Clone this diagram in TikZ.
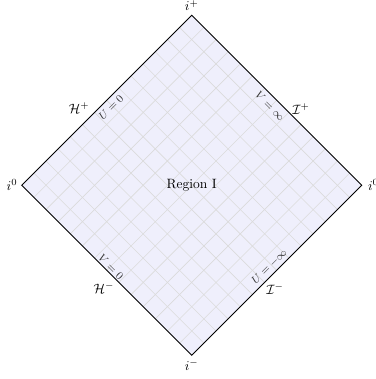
\documentclass[tikz,border=0pt]{standalone}
\usetikzlibrary{calc}
\definecolor{regionfill}{RGB}{239,239,252}
\begin{document}
\begin{tikzpicture}[x=0.741pt,y=-0.741pt,
  edge/.style={line width=0.65pt, black},
  gridline/.style={black!14, line width=0.45pt},
  corner/.style={inner sep=3pt},
  horizon/.style={font=\footnotesize, text=black!80, inner sep=0pt},
  bndlabel/.style={inner sep=0pt}]
\useasboundingbox (0,0) rectangle (375,379);
\coordinate (L) at (21.7,185.3);
\coordinate (T) at (191.7,15.3);
\coordinate (R) at (361.7,185.3);
\coordinate (B) at (191.7,355.3);
\fill[regionfill] (L) -- (T) -- (R) -- (B) -- cycle;
\foreach \k in {1,...,13}{
  \draw[gridline] ($(L)!\k/14!(B)$) -- ($(T)!\k/14!(R)$);
  \draw[gridline] ($(L)!\k/14!(T)$) -- ($(B)!\k/14!(R)$);
}
\draw[edge] (L) -- (T) -- (R) -- (B) -- cycle;
\node[corner, above] (ip) at (T) {$i^+$};
\node[corner, below] (im) at (B) {$i^-$};
\node[corner, left] (i0l) at (L) {$i^0$};
\node[corner, right, xshift=1.5pt] (i0r) at (R) {$i^0$};
\node (reg) at (191.7,185) {Region I};
\node[bndlabel] (Hp) at (79,108) {$\mathcal{H}^+$};
\node[bndlabel] (Hm) at (104,288) {$\mathcal{H}^-$};
\node[bndlabel] (Ip) at (301,109) {$\mathcal{I}^+$};
\node[bndlabel] (Im) at (275,289) {$\mathcal{I}^-$};
\node[horizon, rotate=45] (U0) at (111,107) {$U=0$};
\node[horizon, rotate=-45] (Vinf) at (270,106) {$V=\infty$};
\node[horizon, rotate=-45] (V0) at (111,267) {$V=0$};
\node[horizon, rotate=45] (Uminf) at (269.5,266.5) {$U=-\infty$};
\end{tikzpicture}
\end{document}
